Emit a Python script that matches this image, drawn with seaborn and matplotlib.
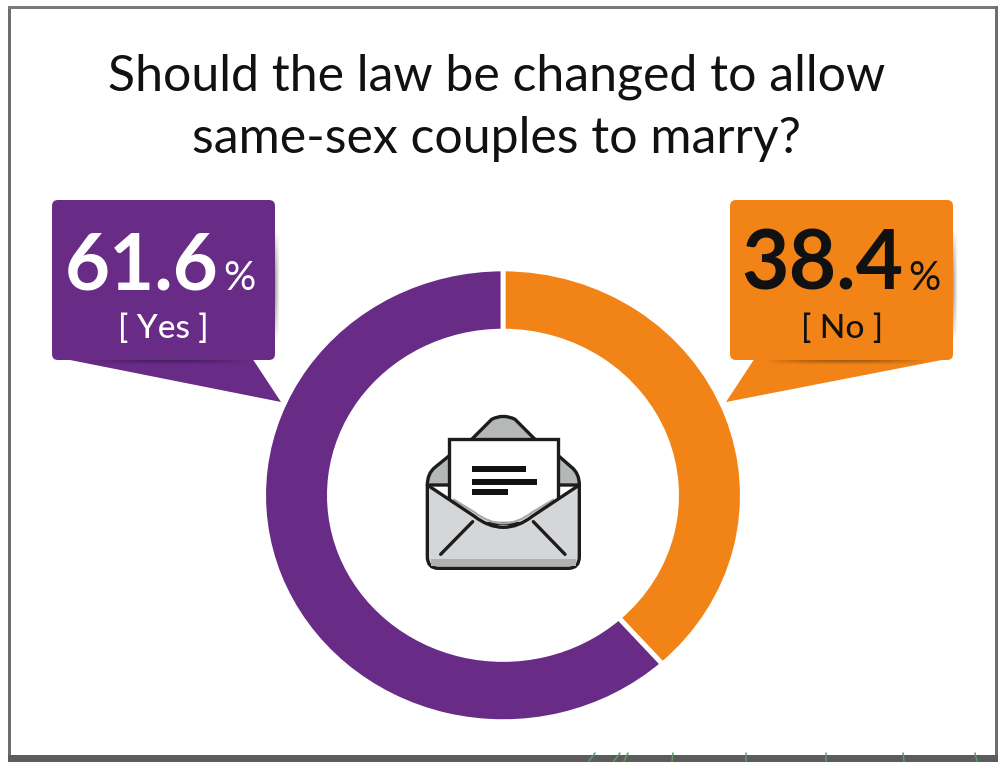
import matplotlib
matplotlib.use('Agg')
import matplotlib.pyplot as plt
import numpy as np
import seaborn as sns
from matplotlib.patches import FancyBboxPatch, Polygon, PathPatch, Rectangle
from matplotlib.path import Path

labels = ['No', 'Yes']
values = [38.4, 61.6]
title_lines = ['Should the law be changed to allow', 'same-sex couples to marry?']
colors = ['#F28316', '#682C87']
text_colors = ['#111111', '#FFFFFF']

W, H = 1006, 770
INK = '#1C1C1C'
sns.set_theme(style='white')
plt.rcParams['font.family'] = ['Lato', 'DejaVu Sans']

fig = plt.figure(figsize=(W / 100, H / 100), dpi=100, facecolor='white')

# background layer in pixel coordinates, y going down
bg = fig.add_axes([0, 0, 1, 1])
bg.set_xlim(0, W)
bg.set_ylim(H, 0)
bg.axis('off')

# outer frame
bg.add_patch(Rectangle((8, 6), 3, 750, color='#6E6E6E', lw=0))
bg.add_patch(Rectangle((8, 6), 990, 3, color='#7A7A7A', lw=0))
bg.add_patch(Rectangle((995, 6), 3.5, 750, color='#6E6E6E', lw=0))
bg.add_patch(Rectangle((8, 755), 990.5, 7, color='#5C5C5C', lw=0))
for x, dx in [(595, -6), (620, -6), (628, -4), (673, -1), (746, 0), (826, 0), (903, 1), (975, 2)]:
    bg.plot([x, x + dx], [753, 761], color='#5E9A68', lw=1.1, solid_capstyle='round')


def shadow(x0, x1, y0, y1, color, vertical):
    # soft shadow under/next to a callout box
    g = np.linspace(0, 1, 40)
    across = np.linspace(1, 0, 8)
    along = np.sin(g * np.pi) ** 0.8
    a = np.outer(across, along) if vertical else np.outer(along, across)
    rgba = np.zeros(a.shape + (4,))
    rgba[..., :3] = matplotlib.colors.to_rgb(color)
    rgba[..., 3] = a * 0.75
    bg.imshow(rgba, extent=(x0, x1, y1, y0), aspect='auto', zorder=4, interpolation='bilinear')


def callout(box, tail, color, dark, side_x):
    x0, y0, x1, y1 = box
    bg.add_patch(Polygon(tail, closed=True, color=color, lw=0, zorder=2))
    bg.add_patch(FancyBboxPatch((x0 + 5, y0 + 5), x1 - x0 - 10, y1 - y0 - 10,
                                boxstyle='round,pad=5,rounding_size=6', color=color, lw=0, zorder=3))
    shadow(x0 + 35, x1 - 25, y1, y1 + 5, dark, True)
    shadow(side_x, side_x + 5, y0 + 30, y1 - 20, '#8A8A8A', False)


callout((52, 200, 275, 360), [(60, 358), (281, 402), (252, 358)], colors[1], '#3E1A52', 275)
callout((730, 200, 953, 360), [(952, 358), (726, 402), (755, 358)], colors[0], '#8A4A0A', 953)

# title
for line, y in zip(title_lines, [91, 153]):
    fig.text(497 / W, 1 - y / H, line, fontsize=36, color='#111111', ha='center', va='baseline')

# callout texts
pos = {'Yes': (65, 290, 223, 163), 'No': (741, 290, 908, 842)}
for lab, val, tc in zip(labels, values, text_colors):
    x, base, pct_x, lab_x = pos[lab]
    size = 56 if lab == 'Yes' else 59
    bg.text(x, base, f'{val:.1f}', fontsize=size, fontweight='bold', color=tc, ha='left', va='baseline', zorder=5)
    bg.text(pct_x, base, '%', fontsize=29, color=tc, ha='left', va='baseline', zorder=5)
    bg.text(lab_x, 338, f'[ {lab} ]', fontsize=24, fontweight='medium', color=tc, ha='center', va='baseline', zorder=5)

# donut: the source picture is slightly squashed, so the axes are not square
cx, cy, rx, ry = 503, 495.3, 239.4, 226.4
ax = fig.add_axes([(cx - rx) / W, 1 - (cy + ry) / H, 2 * rx / W, 2 * ry / H])
ax.patch.set_alpha(0)
ax.pie(values, colors=sns.color_palette(colors), startangle=90, counterclock=False, radius=1,
       wedgeprops={'width': 0.275, 'edgecolor': 'white', 'linewidth': 3.5})
ax.set_aspect('auto')
ax.set_xlim(-1, 1)
ax.set_ylim(-1, 1)

# envelope icon, on a layer above the donut
ic = fig.add_axes([0, 0, 1, 1])
ic.set_xlim(0, W)
ic.set_ylim(H, 0)
ic.axis('off')
ic.patch.set_alpha(0)
lw = 2.4


def zp(zx, zy):
    # zoomed-crop coordinates to picture pixels
    return 400 + zx / 3, 390 + zy / 3


def curve(points, codes, **kw):
    ic.add_patch(PathPatch(Path([zp(*p) for p in points], codes), **kw))


M, L, C3, Z = Path.MOVETO, Path.LINETO, Path.CURVE3, Path.CLOSEPOLY
# back of the envelope with the open flap
curve([(82, 285), (82, 250), (105, 232), (148, 197), (215, 148), (275, 88), (310, 70), (345, 88), (405, 148),
       (475, 197), (515, 232), (538, 250), (538, 285), (82, 285)],
      [M, C3, C3, L, L, L, C3, C3, L, L, L, C3, C3, Z], facecolor='#B5B8B8', edgecolor=INK, lw=lw, joinstyle='round')
# letter
curve([(148, 148), (475, 148), (475, 400), (148, 400), (148, 148)],
      [M, L, L, L, Z], facecolor='white', edgecolor=INK, lw=lw, joinstyle='miter', zorder=3)
for zx0, zx1, zy0, zy1 in [(215, 378, 228, 247), (215, 410, 266, 284), (215, 325, 297, 315)]:
    x0, y0 = zp(zx0, zy0)
    x1, y1 = zp(zx1, zy1)
    ic.add_patch(Rectangle((x0, y0), x1 - x0, y1 - y0, color='#111111', lw=0, zorder=4))
# front pocket, its U-shaped throat runs over the letter
pocket = [(82, 285), (222, 378), (265, 412), (310, 412), (355, 412), (398, 378), (538, 285), (538, 500), (538, 535),
          (505, 535), (115, 535), (82, 535), (82, 500), (82, 285)]
curve(pocket, [M, L, C3, C3, C3, C3, L, L, C3, C3, L, C3, C3, Z], facecolor='#D5D6D8', edgecolor=INK, lw=lw,
      joinstyle='round', zorder=5)
curve([(160, 328), (222, 366), (265, 400), (310, 400), (355, 400), (398, 366), (462, 328)],
      [M, L, C3, C3, C3, C3, L], facecolor='none', edgecolor='#A8A8A8', lw=1.6, zorder=4.5)
ic.add_patch(Rectangle(zp(92, 508), 436 / 3, 19 / 3, color='#B0B2B2', lw=0, zorder=5.5))
ic.plot(*zip(zp(218, 395), zp(122, 493)), color=INK, lw=lw, solid_capstyle='round', zorder=6)
ic.plot(*zip(zp(400, 395), zp(495, 493)), color=INK, lw=lw, solid_capstyle='round', zorder=6)

fig.savefig('out.png', dpi=100, facecolor='white')
